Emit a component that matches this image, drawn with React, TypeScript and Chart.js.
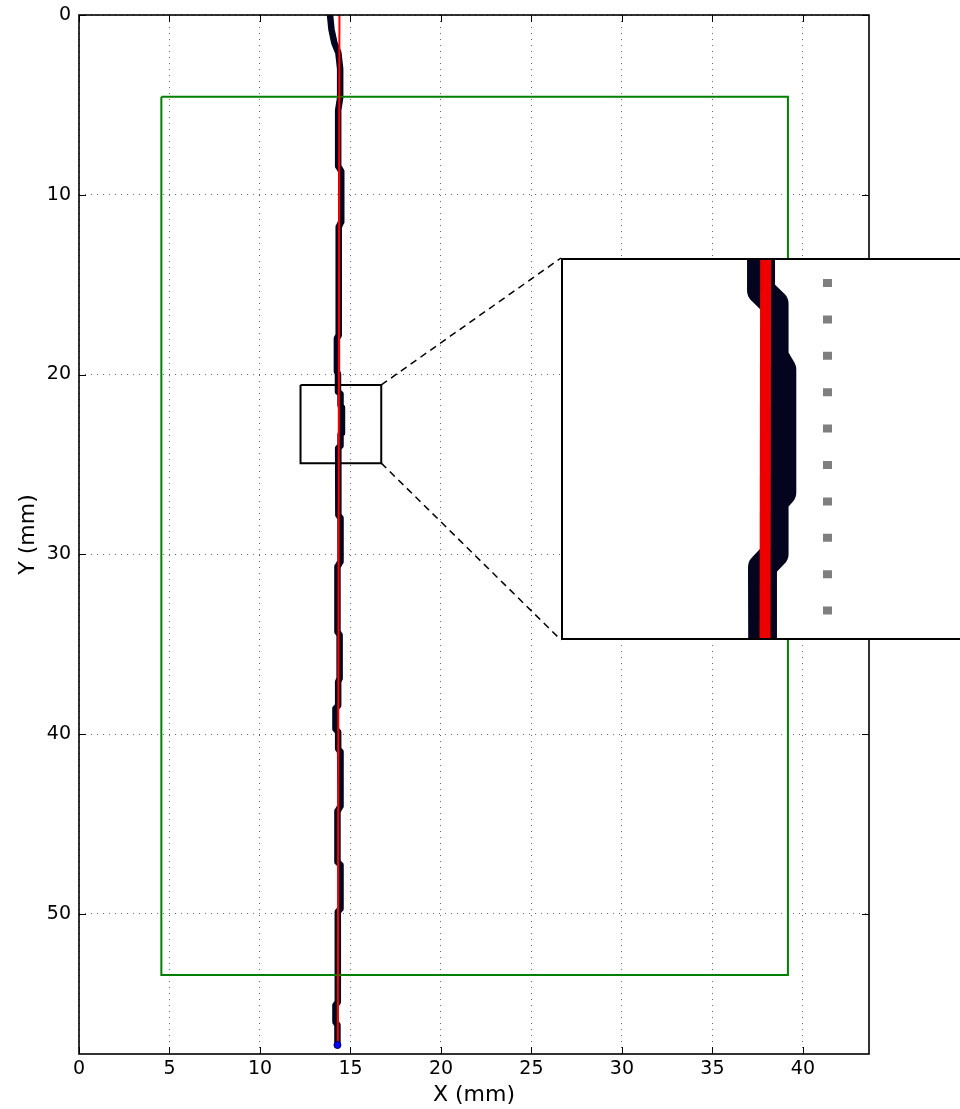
import React, { useEffect, useRef } from "react";
import { Chart, registerables } from "chart.js";
Chart.register(...registerables);

// ---- data ----
const xTicks = [0, 5, 10, 15, 20, 25, 30, 35, 40];
const yTicks = [0, 10, 20, 30, 40, 50];
const xRange = [0, 43.65];
const yRange = [0, 57.8];

// measured path (thick dark trace)
const pathX = [13.87, 13.95, 14.11, 14.33, 14.43, 14.43, 14.32, 14.32, 14.49, 14.49, 14.35, 14.35, 14.25, 14.25, 14.31, 14.31, 14.45, 14.45, 14.53, 14.53, 14.45, 14.45, 14.32, 14.33, 14.45, 14.45, 14.28, 14.28, 14.4, 14.4, 14.32, 14.32, 14.17, 14.17, 14.32, 14.32, 14.43, 14.45, 14.28, 14.28, 14.45, 14.45, 14.3, 14.3, 14.17, 14.17, 14.28, 14.28];
const pathY = [0, 0.8, 1.56, 2.1, 3.0, 4.6, 5.3, 8.4, 8.7, 11.5, 11.8, 17.8, 18.0, 19.8, 20.0, 20.95, 21.1, 21.7, 21.85, 23.25, 23.35, 23.95, 24.1, 27.8, 28.0, 30.4, 30.7, 34.3, 34.5, 36.9, 37.1, 38.4, 38.6, 39.7, 39.9, 40.8, 41.0, 44.0, 44.3, 47.1, 47.3, 49.7, 49.9, 54.9, 55.1, 56.0, 56.2, 57.3];

// fitted straight reference line
const redX = [14.39, 14.3];
const redY = [0, 57.5];

// end point marker
const endX = [14.28];
const endY = [57.3];

// green region
const greenX = [4.55, 39.17];
const greenY = [4.55, 53.4];

// zoomed region
const zoomX = [12.24, 16.7];
const zoomY = [20.58, 24.93];

// ---- layout (pixels) ----
const W = 960;
const H = 1109;
const INSET = { left: 561, top: 258, width: 431, height: 382 };
const TICK_FONT = { family: "'DejaVu Sans', sans-serif", size: 19 };
const TITLE_FONT = { family: "'DejaVu Sans', sans-serif", size: 22 };

const pts = (xs: number[], ys: number[]) => xs.map((x, i) => ({ x, y: ys[i] }));
const boxPts = (xs: number[], ys: number[]) => [
  { x: xs[0], y: ys[0] },
  { x: xs[1], y: ys[0] },
  { x: xs[1], y: ys[1] },
  { x: xs[0], y: ys[1] },
  { x: xs[0], y: ys[0] },
];

const PATH_COLOR = "#04041e";

const framePlugin = {
  id: "frame",
  afterDraw(chart: any) {
    const { ctx, chartArea, scales } = chart;
    const { left, top, right, bottom } = chartArea;
    ctx.save();
    ctx.setLineDash([]);
    ctx.strokeStyle = "#000";
    ctx.lineWidth = 1;
    const line = (a: number, b: number, c: number, d: number) => {
      ctx.beginPath();
      ctx.moveTo(a, b);
      ctx.lineTo(c, d);
      ctx.stroke();
    };
    for (const v of xTicks) {
      const px = Math.round(scales.x.getPixelForValue(v)) + 0.5;
      line(px, bottom, px, bottom - 7);
      line(px, top, px, top + 7);
    }
    for (const v of yTicks) {
      const py = Math.round(scales.y.getPixelForValue(v)) + 0.5;
      line(left, py, left + 7, py);
      line(right, py, right - 7, py);
    }
    ctx.lineWidth = 1.6;
    ctx.strokeRect(left, top, right - left, bottom - top);
    // connectors from zoom box to inset
    ctx.setLineDash([7, 5]);
    ctx.lineWidth = 1.5;
    const cx = scales.x.getPixelForValue(zoomX[1]);
    const cy0 = scales.y.getPixelForValue(zoomY[0]);
    const cy1 = scales.y.getPixelForValue(zoomY[1]);
    line(cx, cy0, INSET.left, INSET.top);
    line(cx, cy1, INSET.left, INSET.top + INSET.height);
    ctx.restore();
  },
};

const insetFramePlugin = {
  id: "insetFrame",
  beforeDraw(chart: any) {
    const { ctx, width, height } = chart;
    ctx.save();
    ctx.fillStyle = "#fff";
    ctx.fillRect(0, 0, width, height);
    ctx.restore();
  },
  afterDraw(chart: any) {
    const { ctx, chartArea } = chart;
    const { left, top, right, bottom } = chartArea;
    ctx.save();
    ctx.strokeStyle = "#000";
    ctx.lineWidth = 2;
    ctx.strokeRect(left + 1, top + 1, right - left - 2, bottom - top - 2);
    ctx.restore();
  },
};

export default function App() {
  const mainRef = useRef<HTMLCanvasElement>(null);
  const insetRef = useRef<HTMLCanvasElement>(null);

  useEffect(() => {
    const main = new Chart(mainRef.current as HTMLCanvasElement, {
      type: "scatter",
      data: {
        datasets: [
          {
            label: "end",
            data: pts(endX, endY),
            showLine: false,
            pointRadius: 3.5,
            pointBackgroundColor: "#0000ff",
            pointBorderColor: "#000060",
            pointBorderWidth: 1,
            order: 0,
            clip: false,
          },
          {
            label: "fit",
            data: pts(redX, redY),
            showLine: true,
            borderColor: "#ff0000",
            borderWidth: 2,
            pointRadius: 0,
            order: 1,
            clip: 0,
          },
          {
            label: "region",
            data: boxPts(greenX, greenY),
            showLine: true,
            borderColor: "#008000",
            borderWidth: 2,
            pointRadius: 0,
            order: 2,
            clip: 0,
          },
          {
            label: "zoom",
            data: boxPts(zoomX, zoomY),
            showLine: true,
            borderColor: "#000000",
            borderWidth: 2,
            pointRadius: 0,
            order: 2,
            clip: 0,
          },
          {
            label: "path",
            data: pts(pathX, pathY),
            showLine: true,
            borderColor: PATH_COLOR,
            borderWidth: 6.5,
            borderJoinStyle: "round",
            pointRadius: 0,
            order: 3,
            clip: 0,
          },
        ] as any,
      },
      options: {
        responsive: false,
        animation: false,
        layout: { padding: { top: 15, right: 91, left: 0, bottom: 0 } },
        plugins: { legend: { display: false }, tooltip: { enabled: false } },
        scales: {
          x: {
            type: "linear",
            min: xRange[0],
            max: xRange[1],
            afterBuildTicks: (s: any) => {
              s.ticks = xTicks.map((v) => ({ value: v }));
            },
            afterFit: (s: any) => {
              s.height = 55;
              s.paddingLeft = 0;
              s.paddingRight = 0;
            },
            ticks: { font: TICK_FONT, color: "#000", padding: 4, maxRotation: 0, autoSkip: false },
            grid: { color: "rgba(0,0,0,0.6)", lineWidth: 1, drawTicks: false },
            border: { display: false, dash: [1, 5] },
            title: { display: true, text: "X (mm)", font: TITLE_FONT, color: "#000", padding: { top: 0, bottom: 1 } },
          },
          y: {
            type: "linear",
            reverse: true,
            min: yRange[0],
            max: yRange[1],
            afterBuildTicks: (s: any) => {
              s.ticks = yTicks.map((v) => ({ value: v }));
            },
            afterFit: (s: any) => {
              s.width = 79;
              s.paddingTop = 0;
              s.paddingBottom = 0;
            },
            ticks: { font: TICK_FONT, color: "#000", padding: 8, autoSkip: false },
            grid: { color: "rgba(0,0,0,0.6)", lineWidth: 1, drawTicks: false },
            border: { display: false, dash: [1, 5] },
            title: { display: true, text: "Y (mm)", font: TITLE_FONT, color: "#000", padding: { top: 15, bottom: 0 } },
          },
        },
      } as any,
      plugins: [framePlugin],
    });

    const inset = new Chart(insetRef.current as HTMLCanvasElement, {
      type: "scatter",
      data: {
        datasets: [
          {
            label: "fit",
            data: pts(redX, redY),
            showLine: true,
            borderColor: "#ee0000",
            borderWidth: 11,
            pointRadius: 0,
            order: 1,
            clip: 0,
          },
          {
            label: "path",
            data: pts(pathX, pathY),
            showLine: true,
            borderColor: PATH_COLOR,
            borderWidth: 28,
            borderJoinStyle: "round",
            pointRadius: 0,
            order: 2,
            clip: 0,
          },
        ] as any,
      },
      options: {
        responsive: false,
        animation: false,
        layout: { padding: 0 },
        plugins: { legend: { display: false }, tooltip: { enabled: false } },
        scales: {
          x: {
            type: "linear",
            min: zoomX[0],
            max: zoomX[1],
            afterBuildTicks: (s: any) => {
              s.ticks = xTicks.filter((v) => v > zoomX[0] && v < zoomX[1]).map((v) => ({ value: v }));
            },
            afterFit: (s: any) => {
              s.height = 0;
            },
            ticks: { display: false },
            grid: { color: "rgba(105,105,105,0.85)", lineWidth: 9, drawTicks: false },
            border: { display: false, dash: [8, 28.4], dashOffset: 15.4 },
          },
          y: {
            type: "linear",
            reverse: true,
            min: zoomY[0],
            max: zoomY[1],
            afterFit: (s: any) => {
              s.width = 0;
            },
            ticks: { display: false },
            grid: { display: false },
            border: { display: false },
          },
        },
      } as any,
      plugins: [insetFramePlugin],
    });

    return () => {
      main.destroy();
      inset.destroy();
    };
  }, []);

  return (
    <div style={{ position: "absolute", left: 0, top: 0, width: W, height: H, overflow: "hidden", background: "#fff" }}>
      <canvas ref={mainRef} width={W} height={H} style={{ position: "absolute", left: 0, top: 0, width: W, height: H }} />
      <canvas
        ref={insetRef}
        width={INSET.width}
        height={INSET.height}
        style={{ position: "absolute", left: INSET.left, top: INSET.top, width: INSET.width, height: INSET.height }}
      />
    </div>
  );
}
